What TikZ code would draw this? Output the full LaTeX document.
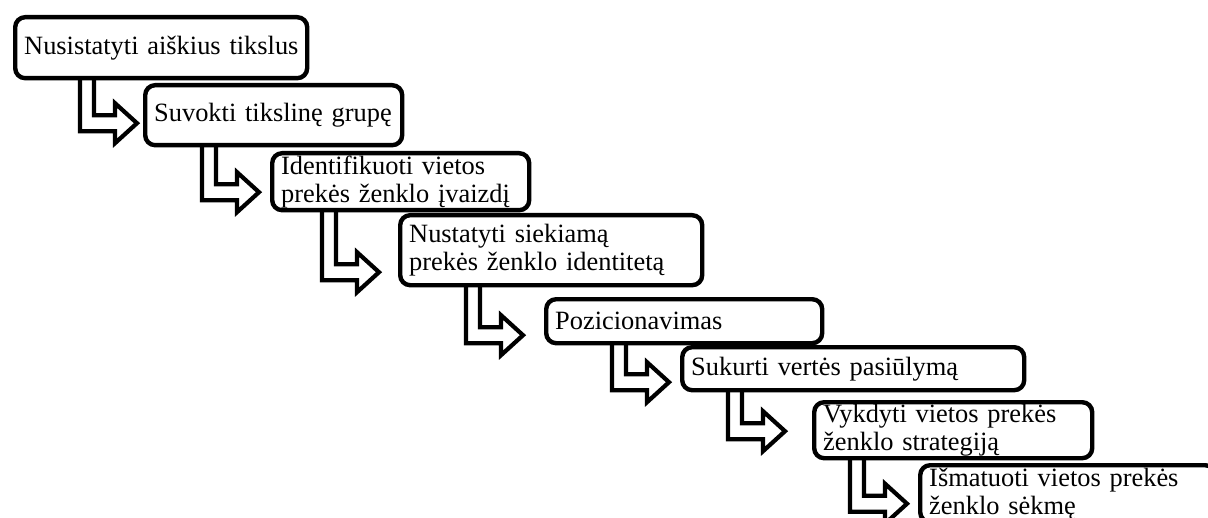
\documentclass[tikz,border=0pt]{standalone}
\usepackage{fontspec}
\setmainfont{Liberation Serif}
\usetikzlibrary{calc,backgrounds}

\tikzset{
  stepbox/.style={draw,fill=white,line width=2.2pt,rounded corners=5pt,anchor=north west,
    align=left,inner xsep=4.5pt,inner ysep=0pt,font=\fontsize{13.2}{14}\selectfont},
  bentarrow/.style={draw,fill=white,line width=2.1pt,line join=miter}
}

% hollow bent arrow from the bottom of #1 to the left side of #2 (#3 = gap, #4 = shift down)
\newcommand{\stairarrow}[4]{%
  \begin{scope}[on background layer]
  \draw[bentarrow] let \p1=($(#2.west)+(-#3-3,#4)$), \p2=(#1.south) in
    (\x1-28.5pt,\y2+3pt) -- (\x1-21.5pt,\y2+3pt) -- (\x1-21.5pt,\y1+4pt) -- (\x1-11pt,\y1+4pt)
    -- (\x1-11pt,\y1+10pt) -- (\x1,\y1) -- (\x1-11pt,\y1-10pt) -- (\x1-11pt,\y1-4pt)
    -- (\x1-28.5pt,\y1-4pt) -- cycle;
  \end{scope}}

\begin{document}
\begin{tikzpicture}[x=0.5pt,y=-0.5pt]
\useasboundingbox (0,0) rectangle (1208,518);
\node[stepbox,text width=137pt,minimum height=30.5pt] (goals) at (13,15) {\mbox{Nusistatyti aiškius tikslus}};
\node[stepbox,text width=119.5pt,minimum height=30pt] (group) at (143,83) {\mbox{Suvokti tikslinę grupę}};
\node[stepbox,text width=119.5pt,minimum height=28.5pt] (image) at (270,151) {Identifikuoti vietos\\prekės ženklo įvaizdį};
\node[stepbox,text width=142pt,minimum height=35pt] (identity) at (398,213) {Nustatyti siekiamą\\prekės ženklo identitetą};
\node[stepbox,text width=129pt,minimum height=22pt] (position) at (544,297) {\mbox{Pozicionavimas}};
\node[stepbox,text width=162pt,minimum height=21.5pt] (value) at (680,345) {\mbox{Sukurti vertės pasiūlymą}};
\node[stepbox,text width=130pt,minimum height=28pt] (strategy) at (812,400) {Vykdyti vietos prekės\\ženklo strategiją};
\node[stepbox,text width=138.5pt,minimum height=28.5pt] (measure) at (918,463) {Išmatuoti vietos prekės\\ženklo sėkmę};
% arrows between the steps
\stairarrow{goals}{group}{3}{8}
\stairarrow{group}{image}{8}{10.5}
\stairarrow{image}{identity}{16}{22}
\stairarrow{identity}{position}{18}{14}
\stairarrow{position}{value}{8}{13.5}
\stairarrow{value}{strategy}{24}{1}
\stairarrow{strategy}{measure}{8}{10}
\end{tikzpicture}
\end{document}
